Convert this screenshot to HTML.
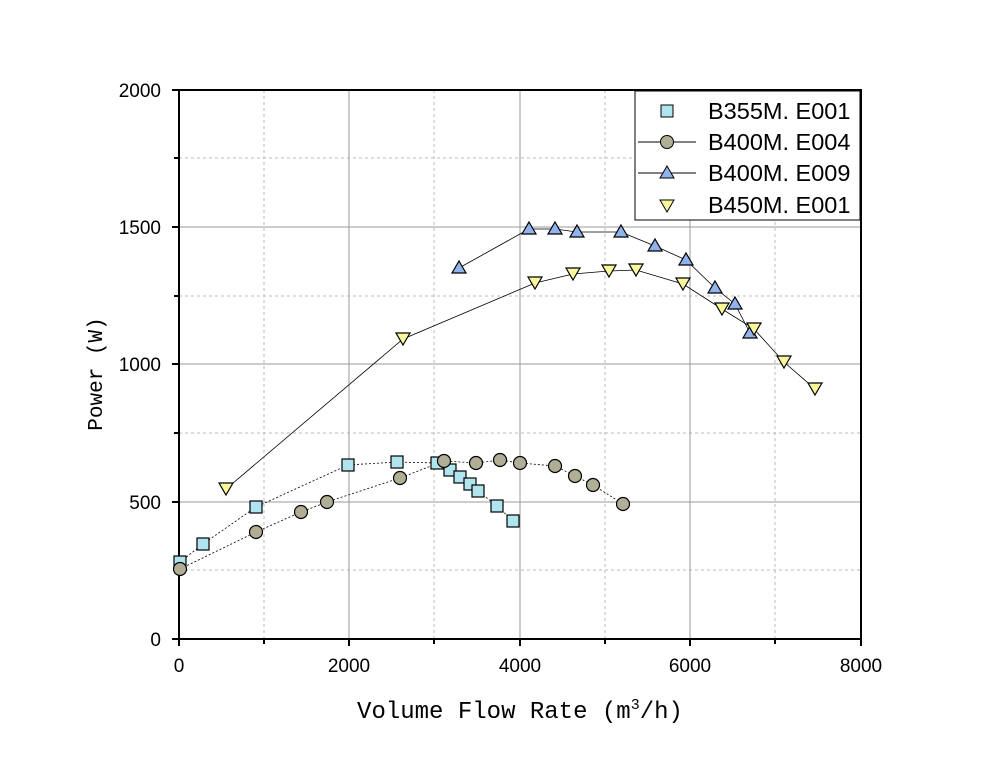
<!DOCTYPE html><html><head><style>body{margin:0;background:#fff}svg{display:block}text{font-family:"Liberation Sans",sans-serif}</style></head><body>
<svg width="1000" height="766" viewBox="0 0 1000 766">
<g stroke="#bbb" stroke-dasharray="3,3" stroke-width="1">
<line x1="264" y1="90" x2="264" y2="639"/><line x1="434" y1="90" x2="434" y2="639"/><line x1="605" y1="90" x2="605" y2="639"/><line x1="775" y1="90" x2="775" y2="639"/>
<line x1="179" y1="158" x2="861" y2="158"/><line x1="179" y1="296" x2="861" y2="296"/><line x1="179" y1="433" x2="861" y2="433"/><line x1="179" y1="570" x2="861" y2="570"/>
</g>
<g stroke="#999" stroke-width="1">
<line x1="349" y1="90" x2="349" y2="639"/><line x1="520" y1="90" x2="520" y2="639"/><line x1="690" y1="90" x2="690" y2="639"/>
<line x1="179" y1="227" x2="861" y2="227"/><line x1="179" y1="364" x2="861" y2="364"/><line x1="179" y1="502" x2="861" y2="502"/>
</g>
<rect x="179" y="90" width="682" height="549" fill="none" stroke="#000" stroke-width="2"/>
<g stroke="#000" stroke-width="2">
<line x1="179" y1="639" x2="179" y2="646"/><line x1="264" y1="639" x2="264" y2="644"/><line x1="349" y1="639" x2="349" y2="646"/><line x1="434" y1="639" x2="434" y2="644"/><line x1="520" y1="639" x2="520" y2="646"/><line x1="605" y1="639" x2="605" y2="644"/><line x1="690" y1="639" x2="690" y2="646"/><line x1="775" y1="639" x2="775" y2="644"/><line x1="861" y1="639" x2="861" y2="646"/>
<line x1="172" y1="90" x2="179" y2="90"/><line x1="174" y1="158" x2="179" y2="158"/><line x1="172" y1="227" x2="179" y2="227"/><line x1="174" y1="296" x2="179" y2="296"/><line x1="172" y1="364" x2="179" y2="364"/><line x1="174" y1="433" x2="179" y2="433"/><line x1="172" y1="502" x2="179" y2="502"/><line x1="174" y1="570" x2="179" y2="570"/><line x1="172" y1="639" x2="179" y2="639"/>
</g>
<g font-size="19" text-anchor="end"><text x="161" y="97">2000</text><text x="161" y="234">1500</text><text x="161" y="371">1000</text><text x="161" y="509">500</text><text x="161" y="646">0</text></g>
<g font-size="19" text-anchor="middle"><text x="179" y="672">0</text><text x="349" y="672">2000</text><text x="520" y="672">4000</text><text x="690" y="672">6000</text><text x="861" y="672">8000</text></g>
<text x="520" y="718" font-size="24" text-anchor="middle" style="font-family:'Liberation Mono',monospace">Volume Flow Rate (m<tspan font-size="15" dy="-9">3</tspan><tspan dy="9">/h)</tspan></text>
<text transform="translate(102,374) rotate(-90)" font-size="21" text-anchor="middle" style="font-family:'Liberation Mono',monospace">Power (W)</text>
<g fill="none" stroke="#000" stroke-width="0.8" stroke-dasharray="2,2">
<polyline points="180,562 203,544 256,507 348,465 397,462 437,463 450,470 460,477 470,484 478,491 497,506 513,521"/>
<polyline points="180,569 256,532 301,512 327,502 400,478 444,461 476,463 500,460 520,463 555,466 575,476 593,485 623,504"/>
</g>
<g fill="none" stroke="#000" stroke-width="0.8">
<polyline points="459,268 529,229 555,229 577,232 621,232 655,246 686,260 715,288 735,304 750,333"/>
<polyline points="226,489 403,339 535,283 573,274 609,271 636,270 683,284 722,309 754,329 784,362 815,389"/>
</g>
<g fill="#b0e4ee" stroke="#000" stroke-width="1.2">
<rect x="174" y="556" width="12" height="12"/><rect x="197" y="538" width="12" height="12"/><rect x="250" y="501" width="12" height="12"/><rect x="342" y="459" width="12" height="12"/><rect x="391" y="456" width="12" height="12"/><rect x="431" y="457" width="12" height="12"/><rect x="444" y="464" width="12" height="12"/><rect x="454" y="471" width="12" height="12"/><rect x="464" y="478" width="12" height="12"/><rect x="472" y="485" width="12" height="12"/><rect x="491" y="500" width="12" height="12"/><rect x="507" y="515" width="12" height="12"/>
</g>
<g fill="#b0ae94" stroke="#000" stroke-width="1.2">
<circle cx="180" cy="569" r="6.5"/><circle cx="256" cy="532" r="6.5"/><circle cx="301" cy="512" r="6.5"/><circle cx="327" cy="502" r="6.5"/><circle cx="400" cy="478" r="6.5"/><circle cx="444" cy="461" r="6.5"/><circle cx="476" cy="463" r="6.5"/><circle cx="500" cy="460" r="6.5"/><circle cx="520" cy="463" r="6.5"/><circle cx="555" cy="466" r="6.5"/><circle cx="575" cy="476" r="6.5"/><circle cx="593" cy="485" r="6.5"/><circle cx="623" cy="504" r="6.5"/>
</g>
<g fill="#92b2ec" stroke="#000" stroke-width="1.2">
<path d="M459,261l7,12h-14z"/><path d="M529,222l7,12h-14z"/><path d="M555,222l7,12h-14z"/><path d="M577,225l7,12h-14z"/><path d="M621,225l7,12h-14z"/><path d="M655,239l7,12h-14z"/><path d="M686,253l7,12h-14z"/><path d="M715,281l7,12h-14z"/><path d="M735,297l7,12h-14z"/><path d="M750,326l7,12h-14z"/>
</g>
<g fill="#fbf79a" stroke="#000" stroke-width="1.2">
<path d="M226,495l7,-12h-14z"/><path d="M403,345l7,-12h-14z"/><path d="M535,289l7,-12h-14z"/><path d="M573,280l7,-12h-14z"/><path d="M609,277l7,-12h-14z"/><path d="M636,276l7,-12h-14z"/><path d="M683,290l7,-12h-14z"/><path d="M722,315l7,-12h-14z"/><path d="M754,335l7,-12h-14z"/><path d="M784,368l7,-12h-14z"/><path d="M815,395l7,-12h-14z"/>
</g>
<rect x="635" y="91" width="225" height="129" fill="#fff" stroke="#000" stroke-width="1"/>
<g font-size="23.5"><text x="708" y="119">B355M. E001</text><text x="708" y="150">B400M. E004</text><text x="708" y="181">B400M. E009</text><text x="708" y="213">B450M. E001</text></g>
<line x1="638" y1="142" x2="696" y2="142" stroke="#000"/><line x1="638" y1="173" x2="696" y2="173" stroke="#000"/>
<rect x="661" y="105" width="12" height="12" fill="#b0e4ee" stroke="#000"/>
<circle cx="667" cy="142" r="6.5" fill="#b0ae94" stroke="#000"/>
<path d="M667,166l7,12h-14z" fill="#92b2ec" stroke="#000"/>
<path d="M667,212l7,-12h-14z" fill="#fbf79a" stroke="#000"/>
</svg></body></html>
